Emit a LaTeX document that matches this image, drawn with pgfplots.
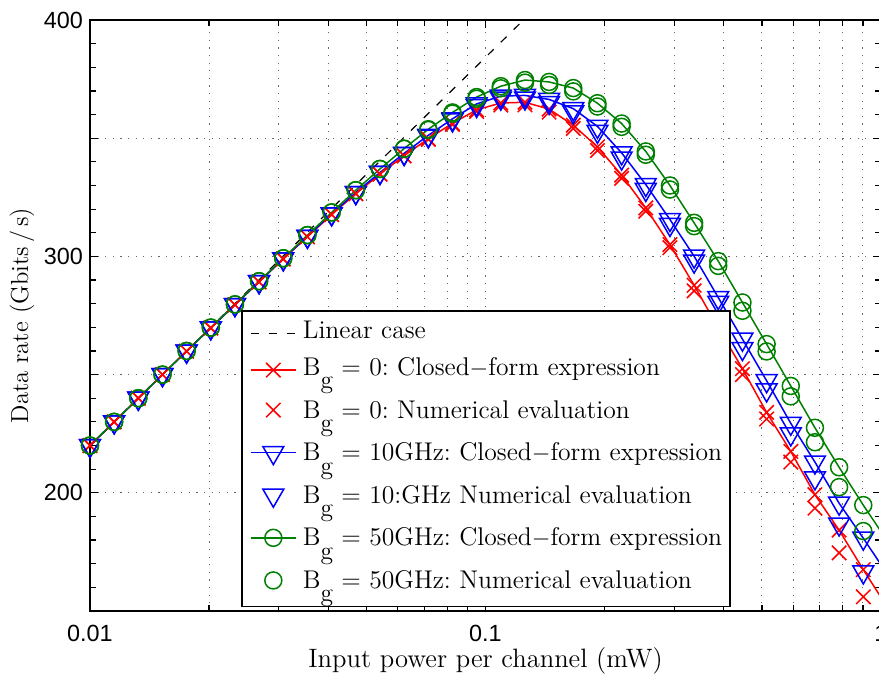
\documentclass[border=0pt]{standalone}
\usepackage{pgfplots}
\usepackage{pgfplotstable}
\pgfplotsset{compat=1.18}
\usepackage{fontspec}
\newfontfamily\ticksans{Liberation Sans}
\usetikzlibrary{calc}
\definecolor{mgreen}{rgb}{0,0.5,0}
\frenchspacing
\newcommand{\Bg}{B\raisebox{-0.52em}[0pt][0pt]{g}}
\newcommand{\strutA}{\rule{0pt}{11.15pt}}
\newcommand{\strutC}{\rule{0pt}{12.05pt}}
\newcommand{\strutB}{\rule{0pt}{14.7pt}}

\pgfplotstableread{
x        Gc     Gn     Bc     Bn     Rc     Rn
0.010000 220.0  220.0  220.0  220.0  220.0  220.0
0.011510 230.0  230.0  230.0  230.0  230.0  230.0
0.013249 240.0  240.0  240.0  240.0  240.0  240.0
0.015250 250.0  250.0  250.0  250.0  250.0  250.0
0.017553 260.0  260.0  259.9  259.9  259.9  259.9
0.020204 269.9  269.9  269.8  269.8  269.7  269.7
0.023255 279.7  279.7  279.6  279.6  279.5  279.5
0.026767 289.5  289.5  289.3  289.3  289.2  289.2
0.030810 299.2  299.2  299.0  299.0  298.9  298.9
0.035465 309.0  309.0  308.5  308.5  308.3  308.3
0.040832 318.6  318.6  318.0  318.0  317.7  317.7
0.047003 328.0  328.0  327.0  327.0  326.5  326.5
0.054102 337.0  337.0  335.5  335.5  334.8  334.8
0.062270 345.6  345.5  343.6  343.5  342.6  342.5
0.071692 353.8  353.5  351.2  350.9  349.8  349.5
0.082516 360.9  360.4  358.2  357.7  356.3  355.8
0.094975 367.4  366.7  364.5  363.8  362.0  361.3
0.10932  372.0  371.1  367.8  366.9  364.9  364.0
0.12584  374.6  373.5  368.1  367.0  365.2  364.1
0.14484  373.8  372.5  366.4  365.1  362.3  361.0
0.16672  371.2  369.8  362.5  361.1  355.5  354.1
0.19191  364.8  363.4  355.0  352.9  346.3  344.8
0.22089  356.2  354.8  343.8  341.6  334.4  333.0
0.25427  344.4  343.0  330.4  328.3  320.5  319.1
0.29268  330.0  328.3  315.6  313.5  305.0  303.7
0.33689  314.2  312.8  300.1  298.0  287.8  285.4
0.38778  298.0  296.0  282.6  280.6  269.8  267.5
0.44638  280.5  277.0  265.0  261.0  252.5  250.0
0.51381  262.9  259.8  247.4  243.5  234.0  231.2
0.59142  245.2  240.8  229.4  224.9  217.5  213.0
0.68077  227.5  221.4  213.0  206.3  199.2  193.5
0.78362  210.8  202.4  195.6  186.8  184.2  174.6
0.90200  194.8  183.8  180.8  166.5  167.5  156.0
1.0383   179.5  165.0  165.5  147.0  151.5  138.0
}\datatable

\begin{document}
\begin{tikzpicture}
\begin{semilogxaxis}[
  scale only axis,
  width=395.5pt, height=295.5pt,
  xmin=0.01, xmax=1, ymin=150, ymax=400,
  xtick={0.01,0.1,1}, xticklabels={0.01,0.1,1},
  minor xtick={0.02,0.03,0.04,0.05,0.06,0.07,0.08,0.09,0.2,0.3,0.4,0.5,0.6,0.7,0.8,0.9},
  ytick={150,200,250,300,350,400}, yticklabels={,200,,300,,400},
  minor y tick num=4,
  xmajorgrids, xminorgrids, ymajorgrids,
  major grid style={dash pattern=on 0.6pt off 3.2pt, gray!80!black, line width=0.5pt},
  minor grid style={dash pattern=on 0.6pt off 3.2pt, gray!80!black, line width=0.5pt},
  tick align=inside,
  xtick pos=both, ytick pos=both,
  major tick length=4pt, minor tick length=3pt,
  tick style={line width=0.6pt, black},
  axis line style={line width=1pt},
  tick label style={font=\ticksans\fontsize{11.7}{14}\selectfont},
  /pgf/number format/assume math mode=true,
  xticklabel style={anchor=base, yshift=-15.5pt},
  xlabel={Input power per channel (mW)},
  ylabel={Data rate (Gbits\,/\,s)},
  xlabel style={font=\fontsize{13.3}{16}\selectfont, at={(axis description cs:0.5,0)}, anchor=base, yshift=-28pt},
  ylabel style={font=\fontsize{12.3}{15}\selectfont, at={(axis description cs:-0.0860,0.5)}, anchor=center},
  every axis plot/.append style={line width=0.75pt},
  legend image code/.code={\draw[mark repeat=2,mark phase=2,#1] plot coordinates {(0cm,0cm) (0.4cm,0cm) (0.8cm,0cm)};},
  legend cell align=left,
  legend style={at={(0.191,0.509)}, anchor=north west, draw=black, line width=0.75pt,
    fill=white, inner xsep=4pt, inner ysep=2.5pt,
    font=\fontsize{12.8}{16}\selectfont,
    nodes={inner sep=0pt, text depth=6.6pt},
    /tikz/every odd column/.append style={column sep=3pt}},
]
\addplot[black, dash pattern=on 4pt off 5pt, line width=0.6pt] coordinates {(0.01,219.8) (0.2,433.7)};
\addlegendentry{\strutA Linear case}
\addplot[red, mark=x, mark size=5.1pt, mark options={solid}] table[x=x, y=Rc] {\datatable};
\addlegendentry{\strutC\Bg{} = 0: Closed$-$form expression}
\addplot[red, only marks, mark=x, mark size=5.1pt] table[x=x, y=Rn] {\datatable};
\addlegendentry{\strutB\Bg{} = 0: Numerical evaluation}
\addplot[blue, mark=triangle, mark size=6pt, mark options={rotate=180, solid}] table[x=x, y=Bc] {\datatable};
\addlegendentry{\strutB\Bg{} = 10GHz: Closed$-$form expression}
\addplot[blue, only marks, mark=triangle, mark size=6pt, mark options={rotate=180}] table[x=x, y=Bn] {\datatable};
\addlegendentry{\strutB\Bg{} = 10:GHz Numerical evaluation}
\addplot[mgreen, mark=o, mark size=4.25pt, mark options={solid}] table[x=x, y=Gc] {\datatable};
\addlegendentry{\strutB\Bg{} = 50GHz: Closed$-$form expression}
\addplot[mgreen, only marks, mark=o, mark size=4.25pt] table[x=x, y=Gn] {\datatable};
\addlegendentry{\strutB\Bg{} = 50GHz: Numerical evaluation}
\coordinate (bbSW) at (rel axis cs:0,0);
\coordinate (bbNE) at (rel axis cs:1,1);
\end{semilogxaxis}
\pgfresetboundingbox
\path[use as bounding box] ($(bbSW)+(-45pt,-32pt)$) rectangle ($(bbNE)+(-1pt,10pt)$);
\end{tikzpicture}
\end{document}
